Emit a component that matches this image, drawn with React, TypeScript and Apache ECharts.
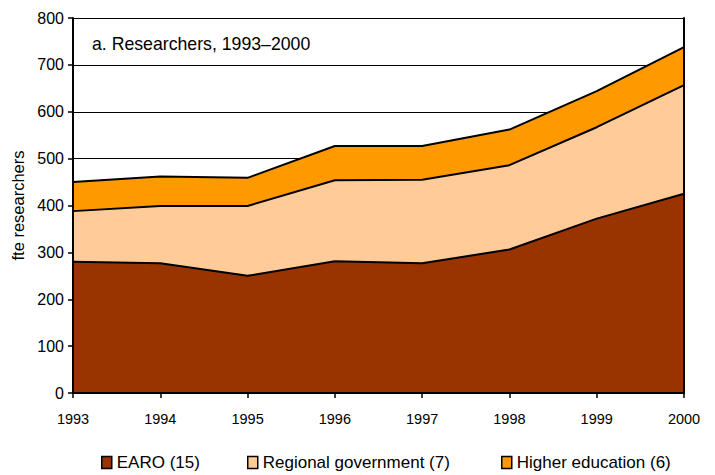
import React, { useEffect, useRef } from "react";
import * as echarts from "echarts";

const years = ["1993", "1994", "1995", "1996", "1997", "1998", "1999", "2000"];
const earo = [280, 277, 250, 281, 277, 306, 372, 425];
const regional = [108, 122, 149, 173, 178, 180, 195, 232];
const higher = [62, 63, 60, 73, 72, 76, 77, 81];
const seriesNames = ["EARO (15)", "Regional government (7)", "Higher education (6)"];
const colors = ["#993300", "#FFCC99", "#FF9900"];
const chartTitle = "a. Researchers, 1993\u20132000";
const yName = "fte researchers";

const FONT = "Liberation Sans, Arial, sans-serif";

export default function App() {
  const ref = useRef<HTMLDivElement>(null);
  useEffect(() => {
    if (!ref.current) return;
    document.body.style.margin = "0";
    const chart = echarts.init(ref.current, null, { renderer: "svg" });
    const dataSets = [earo, regional, higher];
    const legendLefts = [101, 247, 501];
    chart.setOption({
      animation: false,
      backgroundColor: "#ffffff",
      textStyle: { fontFamily: FONT, color: "#000" },
      title: {
        text: chartTitle,
        left: 87,
        top: 30,
        textStyle: { fontFamily: FONT, fontSize: 17.7, fontWeight: "normal", color: "#000" },
      },
      legend: seriesNames.map((n, i) => ({
        data: [{ name: n, icon: "rect" }],
        left: legendLefts[i],
        top: 454,
        itemWidth: 10,
        itemHeight: 12,
        itemGap: 6,
        padding: 0,
        textStyle: { fontFamily: FONT, fontSize: 17, color: "#000" },
        itemStyle: { borderColor: "#000", borderWidth: 1.5 },
        selectedMode: false,
      })),
      grid: {
        left: 73,
        right: 31,
        top: 18,
        bottom: 82,
        containLabel: false,
        outerBoundsMode: "none",
      },
      xAxis: [
        {
          type: "category",
          data: years,
          boundaryGap: false,
          axisLine: { show: true, lineStyle: { color: "#000", width: 2 } },
          axisTick: { show: true, length: 5, lineStyle: { color: "#000", width: 1.5 } },
          axisLabel: { fontFamily: FONT, fontSize: 14.5, color: "#000", margin: 18 },
          splitLine: { show: false },
          z: 10,
        },
        {
          type: "category",
          data: years,
          position: "top",
          boundaryGap: false,
          axisLine: { show: true, lineStyle: { color: "#000", width: 2 } },
          axisTick: { show: false },
          axisLabel: { show: false },
          splitLine: { show: false },
          z: 10,
        },
      ],
      yAxis: [
        {
          type: "value",
          min: 0,
          max: 800,
          interval: 100,
          position: "left",
          axisLine: { show: false },
          axisTick: { show: false },
          axisLabel: { show: false },
          splitLine: { show: true, lineStyle: { color: "#000", width: 1.2 } },
          z: 0,
        },
        {
          type: "value",
          min: 0,
          max: 800,
          interval: 100,
          position: "right",
          axisLine: { show: true, lineStyle: { color: "#000", width: 2 } },
          axisTick: { show: false },
          axisLabel: { show: false },
          splitLine: { show: false },
          z: 10,
        },
        {
          type: "value",
          min: 0,
          max: 800,
          interval: 100,
          position: "left",
          offset: 0,
          name: yName,
          nameLocation: "middle",
          nameGap: 46,
          nameTextStyle: { fontFamily: FONT, fontSize: 16.5, color: "#000" },
          axisLine: { show: true, lineStyle: { color: "#000", width: 2 } },
          axisTick: { show: true, length: 5, lineStyle: { color: "#000", width: 1.5 } },
          axisLabel: { fontFamily: FONT, fontSize: 16, color: "#000", margin: 9 },
          splitLine: { show: false },
          z: 10,
        },
      ],
      series: seriesNames.map((n, i) => ({
        name: n,
        type: "line",
        stack: "total",
        yAxisIndex: 0,
        data: dataSets[i],
        symbol: "none",
        color: colors[i],
        lineStyle: { color: "#000", width: 2 },
        areaStyle: { color: colors[i], opacity: 1 },
        itemStyle: { color: colors[i], borderColor: "#000", borderWidth: 1.5 },
        z: 2,
      })),
    });
    return () => chart.dispose();
  }, []);
  return <div ref={ref} style={{ width: 715, height: 475 }} />;
}
